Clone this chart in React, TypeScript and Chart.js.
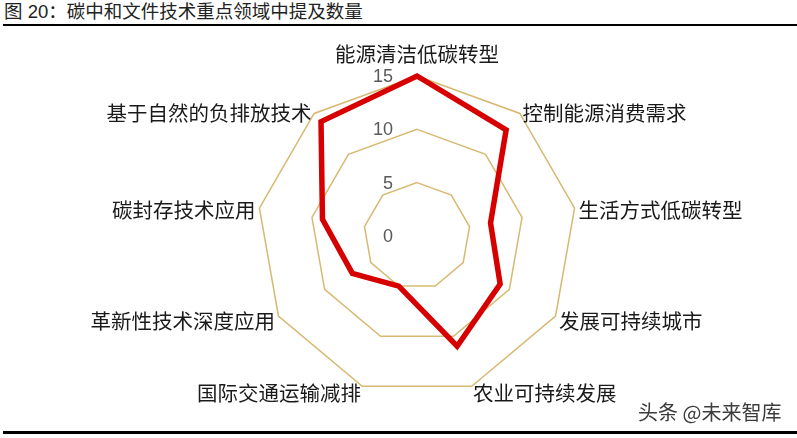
import React from "react";
import { Chart, ChartConfiguration, Plugin, registerables } from "chart.js";

Chart.register(...registerables);

const categories = [
  "能源清洁低碳转型",
  "控制能源消费需求",
  "生活方式低碳转型",
  "发展可持续城市",
  "农业可持续发展",
  "国际交通运输减排",
  "革新性技术深度应用",
  "碳封存技术应用",
  "基于自然的负排放技术",
];

const mentions = [15, 13, 7, 9, 11, 5, 7, 9, 14];

const tickValues = [0, 5, 10, 15];

const GRID_COLOR = "#D7B971";
const LINE_COLOR = "#D60000";
const LABEL_FONT = '20.5px "Noto Sans CJK SC", "Noto Sans", sans-serif';
const TICK_FONT = '18px "Liberation Sans", Arial, sans-serif';

// tick numbers sit left of the vertical axis, right aligned
const tickLabelPlugin: Plugin<"radar"> = {
  id: "tickLabels",
  afterDraw(chart) {
    const scale: any = chart.scales.r;
    const ctx = chart.ctx;
    ctx.save();
    ctx.font = TICK_FONT;
    ctx.fillStyle = "#595959";
    ctx.textAlign = "right";
    ctx.textBaseline = "middle";
    tickValues.forEach((v) => {
      const d = scale.getDistanceFromCenterForValue(v);
      ctx.fillText(String(v), scale.xCenter - 24, scale.yCenter - d + 1);
    });
    ctx.restore();
  },
};

// category labels placed close to the outer ring, excel style
const pointLabelPlugin: Plugin<"radar"> = {
  id: "pointLabelsExcel",
  afterDraw(chart) {
    const scale: any = chart.scales.r;
    const ctx = chart.ctx;
    ctx.save();
    ctx.font = LABEL_FONT;
    ctx.fillStyle = "#1a1a1a";
    ctx.textBaseline = "middle";
    categories.forEach((label, i) => {
      const pos = scale.getPointPosition(i, scale.drawingArea + 4);
      const deg = (i * 360) / categories.length;
      let y = pos.y + 3;
      if (deg === 0) {
        ctx.textAlign = "center";
        y = pos.y - 18;
      } else if (deg < 180) {
        ctx.textAlign = "left";
      } else {
        ctx.textAlign = "right";
      }
      ctx.fillText(label, pos.x, y);
    });
    ctx.restore();
  },
};

const RadarChart: React.FC = () => {
  const canvasRef = React.useRef<HTMLCanvasElement | null>(null);
  const chartRef = React.useRef<Chart<"radar"> | null>(null);

  React.useEffect(() => {
    const ctx = canvasRef.current;
    if (!ctx) return;
    chartRef.current?.destroy();

    const config: ChartConfiguration<"radar"> = {
      type: "radar",
      data: {
        labels: categories,
        datasets: [
          {
            label: "提及数量",
            data: mentions,
            borderColor: LINE_COLOR,
            borderWidth: 5.5,
            borderJoinStyle: "miter",
            fill: false,
            pointRadius: 0,
            pointHoverRadius: 0,
            tension: 0,
          },
        ],
      },
      options: {
        animation: false,
        responsive: true,
        maintainAspectRatio: false,
        layout: {
          padding: { left: 257, right: 220, top: 76, bottom: 42 },
        },
        plugins: {
          legend: { display: false },
          tooltip: { enabled: false },
        },
        scales: {
          r: {
            min: 0,
            max: 15,
            ticks: { stepSize: 5, display: false },
            grid: { color: GRID_COLOR, lineWidth: 1.5 },
            angleLines: { display: false },
            pointLabels: { display: false },
          },
        },
      },
      plugins: [tickLabelPlugin, pointLabelPlugin],
    };

    chartRef.current = new Chart(ctx, config);
    return () => {
      chartRef.current?.destroy();
    };
  }, []);

  return (
    <div style={{ position: "absolute", left: 0, top: 0, width: 797, height: 438 }}>
      <canvas ref={canvasRef} />
    </div>
  );
};

export default function App() {
  return (
    <div
      style={{
        position: "fixed",
        left: 0,
        top: 0,
        width: 797,
        height: 438,
        background: "#fff",
        overflow: "hidden",
        fontFamily: '"Liberation Sans", "Noto Sans CJK SC", sans-serif',
      }}
    >
      <div
        style={{
          position: "absolute",
          left: 4,
          top: 1,
          fontSize: 18.5,
          lineHeight: "22px",
          color: "#222",
          whiteSpace: "nowrap",
        }}
      >
        图 20：碳中和文件技术重点领域中提及数量
      </div>
      <div
        style={{
          position: "absolute",
          left: 3,
          right: 0,
          top: 24,
          height: 2,
          background: "#000",
        }}
      />
      <RadarChart />
      <div
        style={{
          position: "absolute",
          left: 638,
          top: 399,
          fontSize: 20,
          lineHeight: "26px",
          color: "#3c3c3c",
          whiteSpace: "nowrap",
          fontFamily: '"Noto Sans CJK SC", sans-serif',
        }}
      >
        头条 @未来智库
      </div>
      <div
        style={{
          position: "absolute",
          left: 3,
          right: 0,
          top: 431,
          height: 3,
          background: "#000",
        }}
      />
    </div>
  );
}
